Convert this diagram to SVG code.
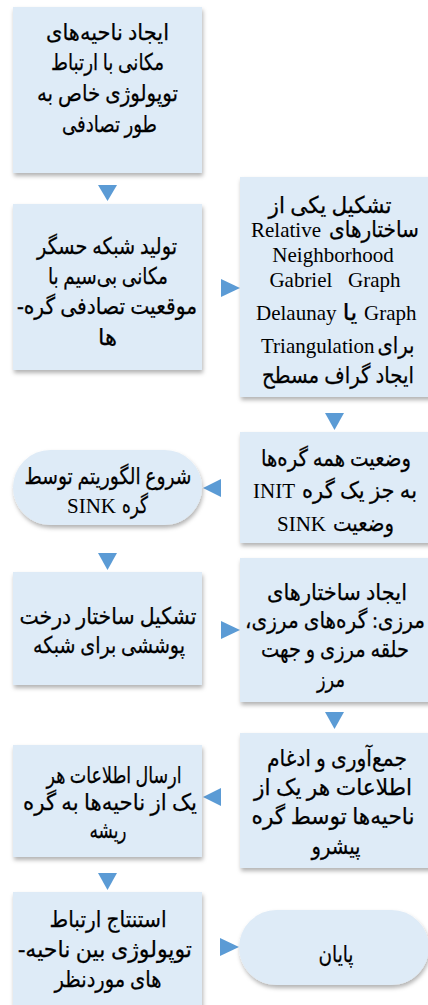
<svg xmlns="http://www.w3.org/2000/svg" width="428" height="1005" viewBox="0 0 428 1005">
<defs>
<filter id="sh" x="-10%" y="-10%" width="130%" height="130%">
<feDropShadow dx="1" dy="3" stdDeviation="2" flood-color="#000" flood-opacity="0.3"/>
</filter>
<style>
.box{fill:#DEEBF7;filter:url(#sh);}
.arr{fill:#5B9BD5;}
text{font-family:'Liberation Serif','DejaVu Sans',serif;font-size:23px;fill:#000;stroke:#000;stroke-width:0.25px;text-anchor:middle;direction:rtl;}
text.l{font-size:21px;stroke-width:0;direction:ltr;text-anchor:start;}
text.lc{font-size:21px;stroke-width:0;direction:ltr;text-anchor:middle;}
</style>
</defs>
<rect width="428" height="1005" fill="#fff"/>
<g id="connectors">
<polygon class="arr" points="98,185 117,185 107.5,201"/>
<polygon class="arr" points="221,279 221,297 240,288"/>
<polygon class="arr" points="325,413 344,413 334.5,430"/>
<polygon class="arr" points="221,479 221,497 203,488"/>
<polygon class="arr" points="98,553 117,553 107.5,570"/>
<polygon class="arr" points="221,621 221,639 240,630"/>
<polygon class="arr" points="325,712 344,712 334.5,729"/>
<polygon class="arr" points="221,788 221,806 203,797"/>
<polygon class="arr" points="98,873 117,873 107.5,890"/>
<polygon class="arr" points="220,938 220,956 239,947"/>
</g>
<g id="n1">
<rect class="box" x="13" y="7" width="189" height="166"/>
<text x="107.5" y="40" textLength="123" lengthAdjust="spacingAndGlyphs">ایجاد ناحیه‌های</text>
<text x="107.5" y="70" textLength="113" lengthAdjust="spacingAndGlyphs">مکانی با ارتباط</text>
<text x="107.5" y="101" textLength="141" lengthAdjust="spacingAndGlyphs">توپولوژی خاص به</text>
<text x="109.5" y="132" textLength="95" lengthAdjust="spacingAndGlyphs">طور تصادفی</text>
</g>
<g id="n2">
<rect class="box" x="13" y="204" width="189" height="166"/>
<text x="107" y="254" textLength="140" lengthAdjust="spacingAndGlyphs">تولید شبکه حسگر</text>
<text x="108" y="284" textLength="120" lengthAdjust="spacingAndGlyphs">مکانی بی‌سیم با</text>
<text x="107" y="314" textLength="180" lengthAdjust="spacingAndGlyphs">موقعیت تصادفی گره-</text>
<text x="107.5" y="345" textLength="19" lengthAdjust="spacingAndGlyphs">ها</text>
</g>
<g id="n3">
<rect class="box" x="240" y="177" width="192" height="220"/>
<text x="330" y="213" textLength="123" lengthAdjust="spacingAndGlyphs">تشکیل یکی از</text>
<text x="374" y="237" textLength="90" lengthAdjust="spacingAndGlyphs">ساختارهای</text>
<text class="l" x="251" y="237">Relative</text>
<text class="lc" x="333" y="262">Neighborhood</text>
<text class="lc" x="335" y="287" xml:space="preserve">Gabriel   Graph</text>
<text class="l" x="256" y="320">Delaunay</text>
<text x="350" y="320" textLength="15" lengthAdjust="spacingAndGlyphs">یا</text>
<text class="l" x="364" y="320">Graph</text>
<text class="l" x="261" y="353">Triangulation</text>
<text x="396" y="353" textLength="37" lengthAdjust="spacingAndGlyphs">برای</text>
<text x="338" y="383" textLength="152" lengthAdjust="spacingAndGlyphs">ایجاد گراف مسطح</text>
</g>
<g id="n4">
<rect class="box" x="240" y="432" width="192" height="111"/>
<text x="336" y="466" textLength="150" lengthAdjust="spacingAndGlyphs">وضعیت همه گره‌ها</text>
<text class="l" x="253" y="498">INIT</text>
<text x="359.5" y="498" textLength="115" lengthAdjust="spacingAndGlyphs">به جز یک گره</text>
<text class="l" x="277" y="531">SINK</text>
<text x="363.5" y="531" textLength="61" lengthAdjust="spacingAndGlyphs">وضعیت</text>
</g>
<g id="n5">
<rect class="box" x="13" y="450" width="189" height="75" rx="37.5"/>
<text x="108" y="484" textLength="167" lengthAdjust="spacingAndGlyphs">شروع الگوریتم توسط</text>
<text class="l" x="67" y="513">SINK</text>
<text x="135" y="513" textLength="26" lengthAdjust="spacingAndGlyphs">گره</text>
</g>
<g id="n6">
<rect class="box" x="13" y="572" width="189" height="113"/>
<text x="108" y="624" textLength="177" lengthAdjust="spacingAndGlyphs">تشکیل ساختار درخت</text>
<text x="109" y="653" textLength="152" lengthAdjust="spacingAndGlyphs">پوششی برای شبکه</text>
</g>
<g id="n7">
<rect class="box" x="240" y="558" width="192" height="144"/>
<text x="337" y="600" textLength="140" lengthAdjust="spacingAndGlyphs">ایجاد ساختارهای</text>
<text x="335" y="628" textLength="180" lengthAdjust="spacingAndGlyphs">مرزی: گره‌های مرزی،</text>
<text x="335" y="657" textLength="148" lengthAdjust="spacingAndGlyphs">حلقه مرزی و جهت</text>
<text x="331" y="687" textLength="28" lengthAdjust="spacingAndGlyphs">مرز</text>
</g>
<g id="n8">
<rect class="box" x="240" y="733" width="192" height="135"/>
<text x="337" y="766" textLength="140" lengthAdjust="spacingAndGlyphs">جمع‌آوری و ادغام</text>
<text x="333" y="795" textLength="158" lengthAdjust="spacingAndGlyphs">اطلاعات هر یک از</text>
<text x="333" y="824" textLength="163" lengthAdjust="spacingAndGlyphs">ناحیه‌ها توسط گره</text>
<text x="336" y="854" textLength="49" lengthAdjust="spacingAndGlyphs">پیشرو</text>
</g>
<g id="n9">
<rect class="box" x="13" y="745" width="189" height="112"/>
<text x="114" y="783" textLength="135" lengthAdjust="spacingAndGlyphs">ارسال اطلاعات هر</text>
<text x="110" y="810" textLength="174" lengthAdjust="spacingAndGlyphs">یک از ناحیه‌ها به گره</text>
<text x="108" y="838" textLength="37" lengthAdjust="spacingAndGlyphs">ریشه</text>
</g>
<g id="n10">
<rect class="box" x="13" y="892" width="189" height="120"/>
<text x="108" y="927" textLength="117" lengthAdjust="spacingAndGlyphs">استنتاج ارتباط</text>
<text x="105" y="957" textLength="174" lengthAdjust="spacingAndGlyphs">توپولوژی بین ناحیه-</text>
<text x="108" y="987" textLength="107" lengthAdjust="spacingAndGlyphs">های موردنظر</text>
</g>
<g id="n11">
<rect class="box" x="239" y="910" width="190" height="75" rx="37.5"/>
<text x="336" y="962" textLength="35" lengthAdjust="spacingAndGlyphs">پایان</text>
</g>
</svg>
